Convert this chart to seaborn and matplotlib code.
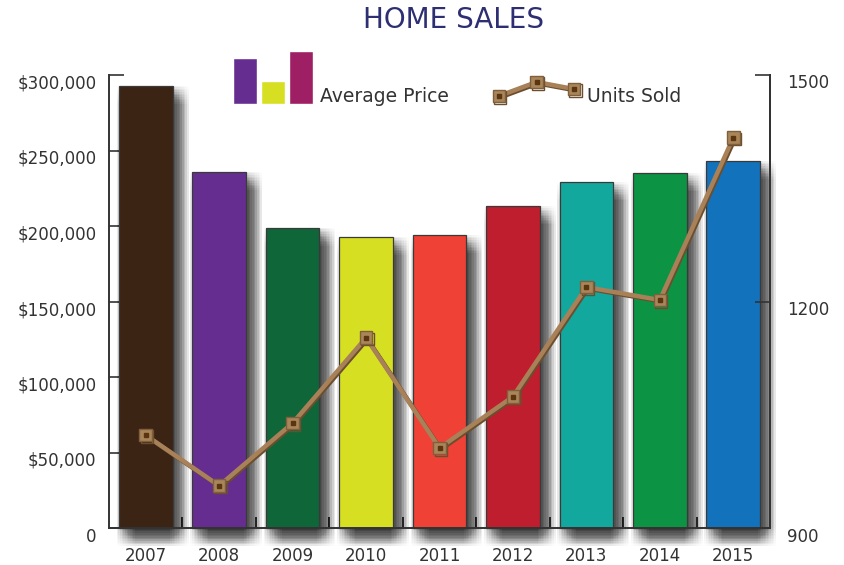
import numpy as np
import matplotlib
matplotlib.use("Agg")
import matplotlib.pyplot as plt
import matplotlib.patheffects as pe
import matplotlib.transforms as mtransforms
from matplotlib.ticker import FixedLocator
import seaborn as sns
import pandas as pd

# ---- data ----
years = ["2007", "2008", "2009", "2010", "2011", "2012", "2013", "2014", "2015"]
avg_price = [293000, 236000, 199000, 193000, 194000, 213000, 229000, 235000, 243000]
units_sold = [1023, 956, 1039, 1152, 1006, 1074, 1219, 1202, 1417]
bar_colors = ["#3C2415", "#662D91", "#0F6638", "#D7DF23", "#EF4136",
              "#BE1E2D", "#12A89D", "#0C9444", "#1272BB"]
price_ticks = [0, 50000, 100000, 150000, 200000, 250000, 300000]
price_labels = ["0", "$50,000", "$100,000", "$150,000", "$200,000", "$250,000", "$300,000"]
unit_ticks = [900, 1200, 1500]
legend_icon_heights = [46, 23, 53]
legend_icon_colors = ["#662D91", "#D7DF23", "#9E1F63"]
legend_line_icon = [14, 28, 21]

sns.set_theme(style="white")
plt.rcParams["font.family"] = ["DejaVu Sans"]

W, H = 844, 565
fig = plt.figure(figsize=(W / 100, H / 100), dpi=100)
fig.patch.set_facecolor("white")

def fx(px):
    return px / W

def fy(py):
    return 1 - py / H

ax_l, ax_r, ax_t, ax_b = 109, 770, 75, 528
ax = fig.add_axes([fx(ax_l), fy(ax_b), fx(ax_r - ax_l), (ax_b - ax_t) / H])
ax.set_facecolor("white")

df = pd.DataFrame({"year": years, "price": avg_price, "units": units_sold})

sns.barplot(data=df, x="year", y="price", hue="year", palette=bar_colors,
            legend=False, ax=ax, width=0.73, edgecolor="#3a3a3a", linewidth=0.9,
            saturation=1)

# soft (box-blurred) drop shadow built from many faint offset copies
offx = np.linspace(-1.5, 11.5, 12)
offy = np.linspace(0.0, 13.0, 12)
shadow_fx = [pe.SimplePatchShadow(offset=(dx, -dy), shadow_rgbFace="black", alpha=0.0072)
             for dx in offx for dy in offy] + [pe.Normal()]
for p in ax.patches:
    p.set_path_effects(shadow_fx)
    p.set_clip_on(False)

ax.set_xlim(-0.5, len(years) - 0.5)
ax.set_ylim(0, 300000)
ax.set_yticks(price_ticks)
ax.set_yticklabels(price_labels)
ax.set_xlabel("")
ax.set_ylabel("")

spine_c = "#333333"
for s in ["left", "bottom", "right"]:
    ax.spines[s].set_visible(True)
    ax.spines[s].set_color(spine_c)
    ax.spines[s].set_linewidth(1.4)
ax.spines["top"].set_visible(False)

lab_size = 12
ax.tick_params(axis="y", which="major", direction="in", length=11, width=1.2,
               color=spine_c, pad=9, labelsize=lab_size, labelcolor="#333333", left=True)
ax.tick_params(axis="x", which="major", length=0, pad=14, labelsize=lab_size,
               labelcolor="#333333", bottom=True)
ax.xaxis.set_minor_locator(FixedLocator(np.arange(0.5, len(years) - 1, 1.0)))
ax.tick_params(axis="x", which="minor", direction="in", length=8, width=1.2,
               color=spine_c, bottom=True)

# twin axis for units sold
ax2 = ax.twinx()
ax2.set_ylim(900, 1500)
ax2.set_yticks(unit_ticks)
for s in ["left", "bottom", "top"]:
    ax2.spines[s].set_visible(False)
ax2.spines["right"].set_color(spine_c)
ax2.spines["right"].set_linewidth(1.4)
ax2.tick_params(axis="y", direction="in", length=11, width=1.2, color=spine_c,
                pad=12, labelsize=lab_size, labelcolor="#333333", right=True)
ax2.grid(False)
ax.grid(False)

xpos = np.arange(len(years))
sns.lineplot(x=xpos, y=units_sold, ax=ax2, color="#A88159", linewidth=3.2,
             marker="s", markersize=9, markerfacecolor="#A9855A",
             markeredgecolor="#80603C", markeredgewidth=1.0)
line = ax2.lines[-1]
line.set_path_effects([pe.SimpleLineShadow(offset=(1.0, -1.0), shadow_color="#6B4E2E", alpha=1.0),
                       pe.Normal()])
ax2.plot(xpos, units_sold, linestyle="none", marker="s", markersize=2.8,
         color="#5A3510")
ax2.set_xlim(-0.5, len(years) - 0.5)
ax2.set_ylabel("")

# shift y tick labels down slightly like the reference
off = mtransforms.ScaledTranslation(0, -6.5 / 100, fig.dpi_scale_trans)
for lab in ax.get_yticklabels() + ax2.get_yticklabels():
    lab.set_transform(lab.get_transform() + off)

# title
fig.text(fx(454), fy(20), "HOME SALES", ha="center", va="center",
         fontsize=20, color="#2D2F72")

# legend: bar icon
lg1 = fig.add_axes([fx(231), fy(104), fx(84), 56 / H])
lg1.bar(np.arange(3), legend_icon_heights, color=legend_icon_colors, width=0.86)
lg1.set_xlim(-0.5, 2.5)
lg1.set_ylim(0, 56)
lg1.axis("off")
fig.text(fx(320), fy(96), "Average Price", ha="left", va="center",
         fontsize=13.5, color="#333333")

# legend: line icon
lg2 = fig.add_axes([fx(480), fy(110), fx(113), 40 / H])
lg2.plot([0, 1, 2], legend_line_icon, color="#A88159", linewidth=3.2, marker="s",
         markersize=9, markerfacecolor="#A9855A", markeredgecolor="#80603C",
         path_effects=[pe.SimpleLineShadow(offset=(1.0, -1.0), shadow_color="#6B4E2E", alpha=1.0),
                       pe.Normal()])
lg2.plot([0, 1, 2], legend_line_icon, linestyle="none", marker="s", markersize=2.8,
         color="#5A3510")
lg2.set_xlim(-0.5, 2.5)
lg2.set_ylim(0, 40)
lg2.axis("off")
fig.text(fx(587), fy(97), "Units Sold", ha="left", va="center",
         fontsize=13.5, color="#333333")

fig.savefig("out.png", dpi=100, facecolor="white")
